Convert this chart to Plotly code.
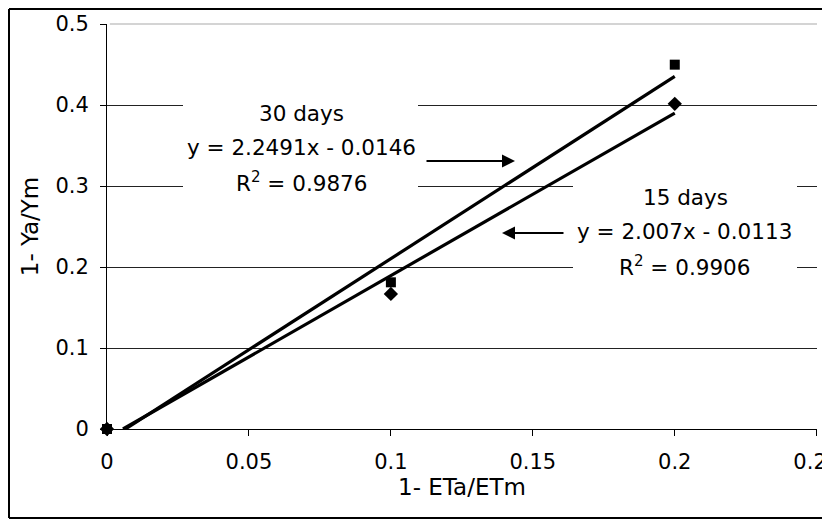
import plotly.graph_objects as go

# Data
x_vals = [0.0, 0.1, 0.2]
y_30days = [0.0, 0.1811, 0.4498]
y_15days = [0.0, 0.1667, 0.4014]
slope_30, icpt_30, r2_30 = 2.2491, -0.0146, 0.9876
slope_15, icpt_15, r2_15 = 2.007, -0.0113, 0.9906
x_ticks = [0, 0.05, 0.1, 0.15, 0.2, 0.25]
y_ticks = [0, 0.1, 0.2, 0.3, 0.4, 0.5]

FONT = "DejaVu Sans"
OFF = 8  # page body margin in the browser
W, H = 830 - OFF, 521 - OFF
ML, MT = 107 - OFF, 24 - OFF
MR = W - (817 - OFF)
MB = H - (429 - OFF)

fig = go.Figure()

def trend(slope, icpt):
    x0 = max(0.0, -icpt / slope)
    xs = [x0, x_vals[-1]]
    return xs, [slope * v + icpt for v in xs]

for slope, icpt in [(slope_30, icpt_30), (slope_15, icpt_15)]:
    xs, ys = trend(slope, icpt)
    fig.add_trace(go.Scatter(x=xs, y=ys, mode="lines",
                             line=dict(color="black", width=3.2),
                             showlegend=False, hoverinfo="skip"))

fig.add_trace(go.Scatter(x=x_vals, y=y_15days, mode="markers",
                         marker=dict(symbol="diamond", size=11, color="black"),
                         cliponaxis=False, showlegend=False, name="15 days"))
fig.add_trace(go.Scatter(x=x_vals, y=y_30days, mode="markers",
                         marker=dict(symbol="square", size=10, color="black"),
                         cliponaxis=False, showlegend=False, name="30 days"))

pw, ph = W - ML - MR, H - MT - MB

def px2paper(sx, sy):
    # screen pixel -> paper coords
    fx, fy = sx - OFF, sy - OFF
    return (fx - ML) / pw, (H - MB - fy) / ph

shapes = []
# white label boxes hiding gridlines
for (x0, y0, x1, y1) in [(183, 98, 418, 196), (573, 178, 797, 282)]:
    a = px2paper(x0, y1)
    b = px2paper(x1, y0)
    shapes.append(dict(type="rect", xref="paper", yref="paper",
                       x0=a[0], y0=a[1], x1=b[0], y1=b[1],
                       fillcolor="white", line=dict(width=0), layer="above"))
# faint top edge of plot area
shapes.append(dict(type="line", xref="paper", yref="paper",
                   x0=0.004, x1=1.0, y0=1.0, y1=1.0,
                   line=dict(color="#d4d4d4", width=2), layer="above"))
# outer frame (left, top, bottom; right side is cut off in the reference)
tl = px2paper(OFF + 1, OFF + 1)
bl = px2paper(OFF + 1, 518)
tr = px2paper(840, OFF + 1)
br = px2paper(840, 518)
for (p, q) in [(tl, bl), (tl, tr), (bl, br)]:
    shapes.append(dict(type="line", xref="paper", yref="paper",
                       x0=p[0], y0=p[1], x1=q[0], y1=q[1],
                       line=dict(color="black", width=2), layer="above"))

annotations = []
def label(cx, cy, text):
    p = px2paper(cx, cy)
    annotations.append(dict(xref="paper", yref="paper", x=p[0], y=p[1],
                            text=text, showarrow=False,
                            font=dict(family=FONT, size=21.5, color="black"),
                            xanchor="center", yanchor="middle"))

label(301, 113, "30 days")
label(301, 147, f"y = {slope_30}x - {abs(icpt_30)}")
label(301, 182, f"R<sup>2</sup> = {r2_30}")
label(685, 198, "15 days")
label(684, 232, f"y = {slope_15}x - {abs(icpt_15)}")
label(684, 266, f"R<sup>2</sup> = {r2_15}")

def arrow(hx, hy, dx):
    p = px2paper(hx, hy)
    annotations.append(dict(xref="paper", yref="paper", x=p[0], y=p[1],
                            ax=dx, ay=0, axref="pixel", ayref="pixel",
                            text="", showarrow=True, arrowhead=2,
                            arrowsize=1.3, arrowwidth=2, arrowcolor="black"))

arrow(515, 161, -90)
arrow(502, 233, 63)

fig.update_layout(
    width=W, height=H, autosize=False,
    margin=dict(l=ML, r=MR, t=MT, b=MB, pad=0, autoexpand=False),
    paper_bgcolor="white", plot_bgcolor="white",
    font=dict(family=FONT, size=21, color="black"),
    shapes=shapes, annotations=annotations,
    xaxis=dict(range=[0, 0.2501], tickvals=x_ticks,
               ticktext=[f"{v:g}" for v in x_ticks],
               automargin=False,
               showline=True, linecolor="black", linewidth=1,
               ticks="outside", ticklen=6, tickcolor="black",
               ticklabeloverflow="allow", ticklabelstandoff=8,
               showgrid=False, zeroline=False,
               title=dict(text="1- ETa/ETm", font=dict(size=23), standoff=2)),
    yaxis=dict(range=[0, 0.5], tickvals=y_ticks,
               ticktext=[f"{v:g}" for v in y_ticks],
               automargin=False,
               showline=True, linecolor="black", linewidth=1,
               ticks="outside", ticklen=6, tickcolor="black",
               ticklabelstandoff=7,
               showgrid=True, gridcolor="#222222", gridwidth=1,
               zeroline=False,
               title=dict(text="1- Ya/Ym", font=dict(size=23), standoff=10)),
)

fig.write_html("out.html")
